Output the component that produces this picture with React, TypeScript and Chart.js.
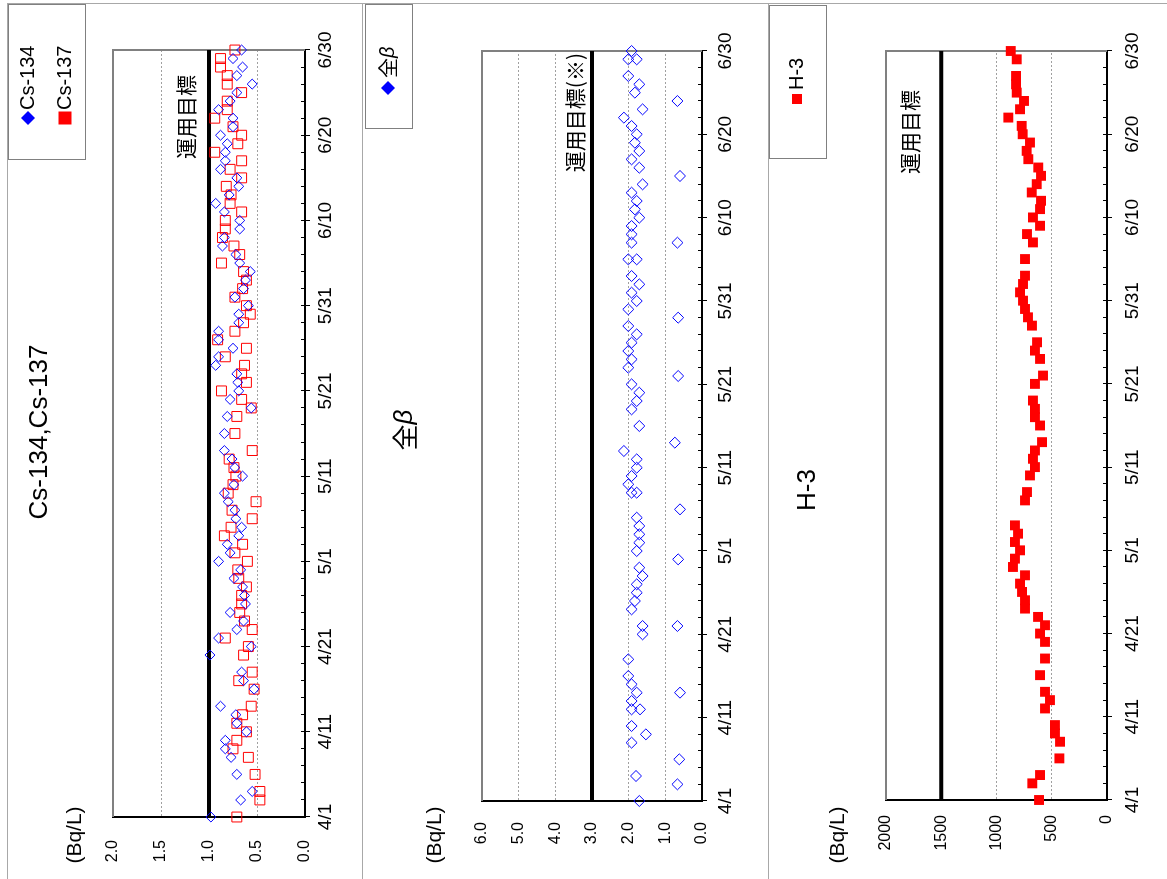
import React, { useEffect, useRef } from "react";
import { Chart, registerables } from "chart.js";
Chart.register(...registerables);

// Unrotated drawing size (the page shows it turned 90° counter-clockwise)
const W = 879;
const H = 1167;

const LATIN = "'Liberation Sans', 'Noto Sans CJK JP', sans-serif";
const JP = "'Noto Sans CJK JP', 'Liberation Sans', sans-serif";

// Date axis: days since 4/1, tick labels every 10 days
const dateTicks = ["4/1", "4/11", "4/21", "5/1", "5/11", "5/21", "5/31", "6/10", "6/20", "6/30"];

// ---- Cs-134 / Cs-137 (Bq/L) ----
const csDay = [0, 2, 3, 5, 7, 8, 9, 10, 11, 12, 13, 15, 16, 17, 19, 20, 21, 22, 23, 24, 25, 26, 27, 28, 29, 30, 31, 32, 33, 34, 35, 36, 37, 38, 39, 40, 41, 42, 43, 45, 47, 48, 49, 50, 51, 52, 53, 54, 55, 56, 57, 58, 59, 60, 61, 62, 63, 64, 65, 66, 67, 68, 69, 70, 71, 72, 73, 74, 75, 76, 77, 78, 79, 80, 81, 82, 83, 84, 85, 86, 87, 88, 89, 90];
const cs134 = [0.98, 0.67, 0.55, 0.71, 0.77, 0.83, 0.83, 0.61, 0.71, 0.72, 0.88, 0.53, 0.64, 0.66, 0.99, 0.56, 0.9, 0.71, 0.64, 0.78, 0.62, 0.63, 0.65, 0.74, 0.67, 0.9, 0.78, 0.81, 0.69, 0.66, 0.72, 0.73, 0.8, 0.84, 0.74, 0.65, 0.73, 0.76, 0.84, 0.84, 0.81, 0.56, 0.78, 0.69, 0.7, 0.71, 0.93, 0.9, 0.75, 0.9, 0.9, 0.69, 0.69, 0.59, 0.73, 0.64, 0.62, 0.57, 0.68, 0.72, 0.86, 0.84, 0.68, 0.68, 0.84, 0.93, 0.79, 0.69, 0.71, 0.88, 0.83, 0.83, 0.81, 0.88, 0.75, 0.75, 0.9, 0.78, 0.71, 0.55, 0.71, 0.65, 0.75, 0.66];
const cs137 = [0.71, 0.47, 0.47, 0.52, 0.59, 0.75, 0.71, 0.61, 0.71, 0.65, 0.56, 0.53, 0.69, 0.55, 0.64, 0.59, 0.83, 0.55, 0.63, 0.68, 0.66, 0.66, 0.61, 0.69, 0.7, 0.6, 0.73, 0.65, 0.84, 0.77, 0.55, 0.76, 0.51, 0.8, 0.75, 0.72, 0.74, 0.79, 0.55, 0.73, 0.71, 0.56, 0.66, 0.87, 0.61, 0.66, 0.63, 0.83, 0.61, 0.91, 0.73, 0.64, 0.57, 0.61, 0.73, 0.65, 0.61, 0.64, 0.87, 0.68, 0.74, 0.86, 0.83, 0.83, 0.66, 0.78, 0.77, 0.82, 0.66, 0.78, 0.66, 0.94, 0.7, 0.66, 0.75, 0.94, 0.81, 0.81, 0.66, 0.81, 0.81, 0.88, 0.88, 0.73];
const csTarget = 1.0;
const csTicks = ["0.0", "0.5", "1.0", "1.5", "2.0"];

// ---- 全β (Bq/L) ----
const betaDay = [0, 3, 7, 8, 9, 11, 11, 12, 13, 14, 15, 17, 20, 21, 23, 24, 25, 26, 27, 28, 30, 31, 32, 33, 34, 37, 37, 38, 39, 40, 41, 42, 45, 47, 48, 49, 50, 52, 53, 54, 55, 56, 57, 59, 60, 61, 62, 63, 65, 65, 67, 68, 69, 70, 71, 72, 73, 74, 76, 77, 78, 79, 80, 81, 82, 83, 85, 86, 87, 89, 89, 90];
const beta = [1.71, 1.8, 1.92, 1.53, 1.92, 1.92, 1.69, 1.92, 1.78, 1.92, 2.01, 2.01, 1.62, 1.62, 1.92, 1.83, 1.78, 1.78, 1.62, 1.71, 1.78, 1.71, 1.71, 1.71, 1.78, 1.92, 1.78, 2.01, 1.92, 1.78, 1.78, 2.13, 1.71, 1.92, 1.78, 1.71, 1.92, 2.01, 1.92, 2.01, 1.92, 1.78, 2.01, 2.01, 1.78, 1.92, 1.71, 1.92, 2.01, 1.78, 1.92, 1.92, 1.92, 1.71, 1.83, 1.78, 1.92, 1.62, 1.71, 1.92, 1.71, 1.83, 1.78, 1.92, 2.13, 1.62, 1.83, 1.71, 2.01, 2.01, 1.78, 1.92];
const betaLowDay = [2, 5, 13, 21, 29, 35, 43, 51, 58, 67, 75, 84];
const betaLow = [0.67, 0.62, 0.6, 0.67, 0.65, 0.6, 0.74, 0.65, 0.65, 0.67, 0.6, 0.67];
const betaTarget = 3.0;
const betaTicks = ["0.0", "1.0", "2.0", "3.0", "4.0", "5.0", "6.0"];

// ---- H-3 (Bq/L) ----
const h3Day = [0, 2, 3, 5, 7, 8, 9, 11, 12, 13, 15, 17, 19, 20, 21, 22, 23, 24, 25, 26, 27, 28, 29, 30, 31, 32, 33, 36, 37, 39, 40, 41, 42, 43, 45, 46, 47, 48, 50, 51, 53, 54, 55, 57, 58, 59, 60, 61, 62, 63, 65, 67, 68, 69, 70, 71, 72, 73, 74, 75, 76, 77, 78, 79, 80, 81, 82, 83, 84, 85, 86, 87, 89, 90];
const h3 = [615, 676, 606, 431, 425, 471, 471, 561, 516, 561, 606, 561, 561, 606, 561, 624, 742, 742, 769, 787, 742, 851, 833, 787, 833, 805, 833, 742, 724, 697, 652, 670, 652, 588, 606, 652, 652, 670, 652, 579, 606, 652, 633, 679, 715, 742, 760, 787, 760, 742, 742, 670, 724, 606, 670, 606, 597, 681, 636, 597, 622, 712, 727, 697, 763, 772, 893, 787, 751, 817, 823, 823, 817, 871];
const h3Target = 1500;
const h3Ticks = ["0", "500", "1000", "1500", "2000"];

const BLUE = "#0000ff";
const RED = "#ff0000";

const pts = (xs: number[], ys: number[]) => xs.map((x, i) => ({ x, y: ys[i] }));
const hLine = (v: number) => [{ x: 0, y: v }, { x: 90, y: v }];

type LegendItem = { text: string; style: "diamond" | "square"; size: number; color: string; x: number; y: number; gap: number };

type PanelCfg = {
  top: number;
  height: number;
  area: { left: number; right: number; top: number; bottom: number };
  yMax: number;
  yStep: number;
  yTicks: string[];
  yPad: number;
  xPad: number;
  target: number;
  targetLabel: string;
  targetRight: number;
  targetOffset: number;
  title: string[];
  titleX: number;
  titleY: number;
  legendBox: { x1: number; y1: number; x2: number; y2: number };
  legend: LegendItem[];
  unitX: number;
  unitY: number;
  datasets: any[];
};

function marker(ctx: CanvasRenderingContext2D, style: string, size: number, x: number, y: number, color: string) {
  ctx.fillStyle = color;
  ctx.beginPath();
  const r = size / 2;
  if (style === "diamond") {
    ctx.moveTo(x, y - r);
    ctx.lineTo(x + r, y);
    ctx.lineTo(x, y + r);
    ctx.lineTo(x - r, y);
    ctx.closePath();
  } else {
    ctx.rect(x - r, y - r, size, size);
  }
  ctx.fill();
}

function makeDecor(cfg: PanelCfg) {
  return {
    id: "decor",
    beforeDatasetsDraw(chart: any) {
      const { ctx, chartArea: a } = chart;
      ctx.save();
      ctx.strokeStyle = "#808080";
      ctx.lineWidth = 2;
      ctx.beginPath();
      ctx.moveTo(a.left, a.top);
      ctx.lineTo(a.right, a.top);
      ctx.lineTo(a.right, a.bottom);
      ctx.stroke();
      ctx.restore();
    },
    afterDraw(chart: any) {
      const { ctx } = chart;
      ctx.save();
      ctx.fillStyle = "#000";
      ctx.textBaseline = "middle";
      // title
      if (cfg.title.length === 1) {
        ctx.font = `26px ${LATIN}`;
        ctx.textAlign = "center";
        ctx.fillText(cfg.title[0], cfg.titleX, cfg.titleY);
      } else {
        ctx.font = `26px ${JP}`;
        const w1 = ctx.measureText(cfg.title[0]).width;
        ctx.font = `italic 26px ${LATIN}`;
        const w2 = ctx.measureText(cfg.title[1]).width;
        const x0 = cfg.titleX - (w1 + w2) / 2;
        ctx.textAlign = "left";
        ctx.font = `26px ${JP}`;
        ctx.fillText(cfg.title[0], x0, cfg.titleY);
        ctx.font = `italic 26px ${LATIN}`;
        ctx.fillText(cfg.title[1], x0 + w1, cfg.titleY);
      }
      // legend box
      const b = cfg.legendBox;
      ctx.strokeStyle = "#808080";
      ctx.lineWidth = 1;
      ctx.strokeRect(b.x1 + 0.5, b.y1 + 0.5, b.x2 - b.x1, b.y2 - b.y1);
      for (const it of cfg.legend) {
        marker(ctx, it.style, it.size, it.x, it.y, it.color);
        ctx.fillStyle = "#000";
        ctx.textAlign = "left";
        const tx = it.x + it.gap;
        if (it.text === "全β") {
          ctx.font = `20px ${JP}`;
          ctx.fillText("全", tx, it.y);
          const w = ctx.measureText("全").width;
          ctx.font = `italic 20px ${LATIN}`;
          ctx.fillText("β", tx + w, it.y);
        } else {
          ctx.font = `20px ${LATIN}`;
          ctx.fillText(it.text, tx, it.y);
        }
      }
      // unit
      ctx.font = `21px ${LATIN}`;
      ctx.textAlign = "center";
      ctx.fillText("(Bq/L)", cfg.unitX, cfg.unitY);
      // target label
      const yPix = chart.scales.y.getPixelForValue(cfg.target);
      ctx.font = `21px ${JP}`;
      ctx.textAlign = "right";
      ctx.fillText(cfg.targetLabel, cfg.targetRight, yPix - cfg.targetOffset);
      ctx.restore();
    },
  };
}

function Panel({ cfg }: { cfg: PanelCfg }) {
  const ref = useRef<HTMLCanvasElement | null>(null);
  useEffect(() => {
    if (!ref.current) return;
    const a = cfg.area;
    const chart = new Chart(ref.current, {
      type: "scatter",
      data: { datasets: cfg.datasets },
      options: {
        animation: false,
        responsive: false,
        maintainAspectRatio: false,
        devicePixelRatio: 1,
        events: [],
        layout: { autoPadding: false, padding: { left: 0, right: W - a.right, top: a.top, bottom: 0 } },
        plugins: { legend: { display: false }, title: { display: false }, tooltip: { enabled: false } },
        scales: {
          x: {
            type: "linear",
            position: "bottom",
            min: 0,
            max: 90,
            weight: 1,
            afterFit: (s: any) => {
              s.height = cfg.height - a.bottom;
            },
            ticks: {
              stepSize: 10,
              autoSkip: false,
              maxRotation: 0,
              minRotation: 0,
              padding: cfg.xPad,
              color: "#000",
              font: { family: LATIN, size: 19 },
              callback: (_v: any, i: number) => dateTicks[i],
            },
            grid: { drawOnChartArea: false, drawTicks: true, tickLength: 5, tickColor: "#000", tickWidth: 1 },
            border: { display: true, color: "#000", width: 2 },
          },
          xMinor: {
            type: "linear",
            position: "bottom",
            min: 0,
            max: 90,
            weight: 0,
            afterFit: (s: any) => {
              s.height = 0;
            },
            ticks: { display: false, stepSize: 2, autoSkip: false },
            grid: { drawOnChartArea: false, drawTicks: true, tickLength: -4, tickColor: "#000", tickWidth: 1 },
            border: { display: false },
          },
          y: {
            type: "linear",
            position: "left",
            min: 0,
            max: cfg.yMax,
            afterFit: (s: any) => {
              s.width = a.left;
            },
            ticks: {
              stepSize: cfg.yStep,
              autoSkip: false,
              padding: cfg.yPad,
              color: "#000",
              font: { family: LATIN, size: 16 },
              callback: (_v: any, i: number) => cfg.yTicks[i],
            },
            grid: { color: "#a0a0a0", lineWidth: 1, drawTicks: false },
            border: { display: true, color: "#000", width: 2, dash: [2, 2] },
          },
        },
      } as any,
      plugins: [makeDecor(cfg)],
    });
    return () => chart.destroy();
  }, [cfg]);
  return (
    <canvas
      ref={ref}
      width={W}
      height={cfg.height}
      style={{ position: "absolute", left: 0, top: cfg.top, width: W, height: cfg.height }}
    />
  );
}

const targetDs = (v: number) => ({
  label: "運用目標",
  data: hLine(v),
  showLine: true,
  borderColor: "#000",
  borderWidth: 4,
  pointRadius: 0,
  clip: false,
  order: 10,
});

const panels: PanelCfg[] = [
  {
    top: 0,
    height: 362,
    area: { left: 62, right: 829, top: 113, bottom: 305 },
    yMax: 2,
    yStep: 0.5,
    yTicks: csTicks,
    yPad: 23,
    xPad: 4,
    target: csTarget,
    targetLabel: "運用目標",
    targetRight: 804,
    targetOffset: 23,
    title: ["Cs-134,Cs-137"],
    titleX: 447,
    titleY: 40,
    legendBox: { x1: 719, y1: 8, x2: 874, y2: 85 },
    legend: [
      { text: "Cs-134", style: "diamond", size: 14, color: BLUE, x: 761, y: 28, gap: 8 },
      { text: "Cs-137", style: "square", size: 13, color: RED, x: 761, y: 65, gap: 8 },
    ],
    unitX: 44,
    unitY: 75,
    datasets: [
      { label: "Cs-134", data: pts(csDay, cs134), pointStyle: "rectRot", pointRadius: 5, borderColor: BLUE, backgroundColor: "rgba(0,0,0,0)", borderWidth: 1, clip: false, order: 1 },
      { label: "Cs-137", data: pts(csDay, cs137), pointStyle: "rect", pointRadius: 7, borderColor: RED, backgroundColor: "rgba(0,0,0,0)", borderWidth: 1, clip: false, order: 2 },
      targetDs(csTarget),
    ],
  },
  {
    top: 362,
    height: 406,
    area: { left: 78, right: 828, top: 120, bottom: 340 },
    yMax: 6,
    yStep: 1,
    yTicks: betaTicks,
    yPad: 21,
    xPad: 7,
    target: betaTarget,
    targetLabel: "運用目標(※)",
    targetRight: 826,
    targetOffset: 17,
    title: ["全", "β"],
    titleX: 449,
    titleY: 43,
    legendBox: { x1: 750, y1: 3, x2: 874, y2: 50 },
    legend: [{ text: "全β", style: "diamond", size: 14, color: BLUE, x: 791, y: 26, gap: 10 }],
    unitX: 44,
    unitY: 73,
    datasets: [
      { label: "全β", data: pts(betaDay, beta), pointStyle: "rectRot", pointRadius: 5.5, borderColor: BLUE, backgroundColor: "rgba(0,0,0,0)", borderWidth: 1, clip: false, order: 1 },
      { label: "全β", data: pts(betaLowDay, betaLow), pointStyle: "rectRot", pointRadius: 5.5, borderColor: BLUE, backgroundColor: "rgba(0,0,0,0)", borderWidth: 1, clip: false, order: 1 },
      targetDs(betaTarget),
    ],
  },
  {
    top: 768,
    height: 399,
    area: { left: 79, right: 828, top: 118, bottom: 339 },
    yMax: 2000,
    yStep: 500,
    yTicks: h3Ticks,
    yPad: 15,
    xPad: 9,
    target: h3Target,
    targetLabel: "運用目標",
    targetRight: 789,
    targetOffset: 31,
    title: ["H-3"],
    titleX: 389,
    titleY: 40,
    legendBox: { x1: 720, y1: 1, x2: 873, y2: 58 },
    legend: [{ text: "H-3", style: "square", size: 10, color: RED, x: 780, y: 29, gap: 9 }],
    unitX: 44,
    unitY: 70,
    datasets: [
      { label: "H-3", data: pts(h3Day, h3), pointStyle: "rect", pointRadius: 7, borderColor: RED, backgroundColor: RED, borderWidth: 0, clip: false, order: 1 },
      targetDs(h3Target),
    ],
  },
];

export default function App() {
  useEffect(() => {
    document.body.style.margin = "0";
    document.body.style.overflow = "hidden";
    document.documentElement.style.overflow = "hidden";
  }, []);
  const line = (style: React.CSSProperties) => (
    <div style={{ position: "absolute", background: "#a8a8a8", ...style }} />
  );
  return (
    <div
      style={{
        position: "absolute",
        left: 0,
        top: 0,
        width: W,
        height: H,
        background: "#fff",
        transformOrigin: "0 0",
        transform: `translateY(${W}px) rotate(-90deg)`,
      }}
    >
      {panels.map((p, i) => (
        <Panel key={i} cfg={p} />
      ))}
      {line({ left: 0, top: 7, width: 875, height: 1 })}
      {line({ left: 0, top: 362, width: 875, height: 1 })}
      {line({ left: 0, top: 768, width: 875, height: 1 })}
      {line({ left: 875, top: 7, width: 1, height: H - 7 })}
    </div>
  );
}
